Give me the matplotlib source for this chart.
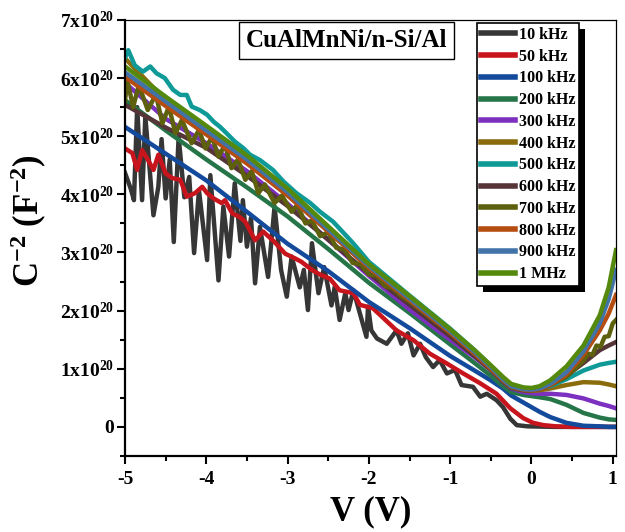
import matplotlib
matplotlib.use('Agg')
import matplotlib.pyplot as plt
from matplotlib.ticker import MultipleLocator, FuncFormatter
from matplotlib.patches import Rectangle

plt.rcParams['font.family'] = ['Liberation Serif', 'DejaVu Serif']
plt.rcParams['font.weight'] = 'bold'
plt.rcParams['axes.labelweight'] = 'bold'
plt.rcParams['mathtext.fontset'] = 'custom'
plt.rcParams['mathtext.rm'] = 'Liberation Serif:bold'
plt.rcParams['mathtext.bf'] = 'Liberation Serif:bold'
plt.rcParams['mathtext.it'] = 'Liberation Serif:italic:bold'

# C^-2 values in units of 1e20 F^-2
V = [-5.0, -4.5, -4.0, -3.5, -3.0, -2.5, -2.0, -1.5, -1.0, -0.7, -0.5,
     -0.35, -0.25, -0.1, 0.0, 0.1, 0.23, 0.43, 0.64, 0.84, 0.95, 1.04]

v10 = [-5.0, -4.93, -4.89, -4.85, -4.79, -4.75, -4.65, -4.59, -4.55, -4.5,
       -4.45, -4.4, -4.34, -4.27, -4.21, -4.15, -4.09, -3.99, -3.95, -3.85,
       -3.79, -3.72, -3.65, -3.58, -3.55, -3.5, -3.45, -3.4, -3.34, -3.24,
       -3.16, -3.08, -3.01, -2.95, -2.85, -2.8, -2.75, -2.7, -2.62, -2.55,
       -2.46, -2.42, -2.36, -2.29, -2.25, -2.19, -2.1, -2.03, -2.01, -1.97,
       -1.9, -1.78, -1.66, -1.6, -1.52, -1.45, -1.37, -1.3, -1.21, -1.13,
       -1.04, -0.94, -0.86, -0.72, -0.63, -0.55, -0.43, -0.35, -0.26, -0.18,
       -0.05, 0.3, 1.04]
c10 = [4.37, 4.1, 3.9, 5.5, 3.9, 5.34, 3.64, 4.13, 4.95, 3.93,
       4.6, 3.18, 4.99, 3.95, 4.3, 2.99, 4.07, 2.87, 4.33, 2.52,
       3.79, 2.93, 4.19, 3.2, 3.9, 3.1, 3.6, 2.47, 3.44, 2.58,
       3.79, 2.7, 2.24, 2.93, 2.4, 2.7, 2.01, 3.16, 2.3, 2.75,
       2.09, 2.41, 1.84, 2.3, 2.01, 2.35, 1.9, 1.55, 2.07, 1.66,
       1.52, 1.43, 1.66, 1.43, 1.61, 1.23, 1.43, 1.2, 1.03, 1.15,
       0.92, 0.98, 0.72, 0.69, 0.52, 0.57, 0.46, 0.34, 0.14, 0.03,
       0.01, 0.0, 0.0]

v50 = [-5.0, -4.91, -4.85, -4.79, -4.72, -4.65, -4.59, -4.5, -4.42, -4.32,
       -4.24, -4.14, -4.05, -3.99, -3.91, -3.81, -3.77, -3.68, -3.6, -3.52,
       -3.4, -3.3, -3.16, -3.03, -2.91, -2.83, -2.7, -2.6, -2.48, -2.36,
       -2.19, -2.11, -1.95, -1.82, -1.66, -1.45, -1.25, -1.04, -0.84, -0.63,
       -0.43, -0.26, -0.1, 0.02, 0.15, 0.3, 0.5, 1.04]
c50 = [4.79, 4.71, 4.42, 4.76, 4.6, 4.42, 4.68, 4.36, 4.28, 4.25,
       3.96, 4.02, 4.13, 4.02, 3.93, 3.85, 3.9, 3.67, 3.62, 3.53,
       3.21, 3.36, 3.18, 2.98, 2.9, 2.84, 2.7, 2.62, 2.55, 2.35,
       2.3, 2.1, 2.04, 1.87, 1.66, 1.49, 1.26, 1.09, 0.92, 0.75,
       0.57, 0.32, 0.15, 0.07, 0.03, 0.01, 0.0, 0.0]

c100 = [5.16, 4.7, 4.24, 3.7, 3.15, 2.68, 2.15, 1.7, 1.22, 0.97, 0.8,
        0.66, 0.54, 0.42, 0.34, 0.26, 0.17, 0.07, 0.02, 0.01, 0.0, 0.0]
c200 = [5.62, 5.1, 4.6, 4.12, 3.62, 3.06, 2.48, 1.96, 1.42, 1.1, 0.88,
        0.7, 0.6, 0.55, 0.53, 0.51, 0.48, 0.38, 0.24, 0.16, 0.13, 0.12]
c300 = [5.92, 5.3, 4.88, 4.4, 3.84, 3.22, 2.6, 2.02, 1.5, 1.2, 0.98,
        0.78, 0.66, 0.6, 0.58, 0.57, 0.57, 0.55, 0.49, 0.4, 0.36, 0.32]
c400 = [6.34, 5.62, 5.1, 4.58, 4.02, 3.38, 2.74, 2.18, 1.62, 1.26, 1.0,
        0.8, 0.68, 0.63, 0.62, 0.63, 0.66, 0.72, 0.77, 0.76, 0.73, 0.70]

v500 = [-5.0, -4.96, -4.88, -4.78, -4.69, -4.61, -4.51, -4.41, -4.32, -4.24,
        -4.18, -4.08, -3.99, -3.91, -3.83, -3.75, -3.65, -3.54, -3.46, -3.34,
        -3.18, -3.05, -2.89, -2.72, -2.6, -2.44, -2.2, -2.0, -1.5, -1.0,
        -0.7, -0.5, -0.35, -0.25, -0.1, 0.0, 0.1, 0.23, 0.43, 0.64,
        0.84, 0.95, 1.04]
c500 = [6.35, 6.48, 6.22, 6.11, 6.2, 6.08, 6.0, 5.8, 5.71, 5.71,
        5.51, 5.45, 5.37, 5.25, 5.16, 5.05, 4.91, 4.79, 4.68, 4.59,
        4.42, 4.22, 4.02, 3.85, 3.7, 3.53, 3.17, 2.84, 2.26, 1.69,
        1.32, 1.05, 0.84, 0.72, 0.66, 0.65, 0.67, 0.7, 0.82, 0.97,
        1.07, 1.1, 1.12]

c600 = [5.54, 5.15, 4.8, 4.32, 3.8, 3.22, 2.64, 2.1, 1.56, 1.22, 0.98,
        0.78, 0.67, 0.63, 0.63, 0.65, 0.72, 0.88, 1.1, 1.32, 1.4, 1.46]

v700 = [-5.0, -4.97, -4.9, -4.83, -4.72, -4.62, -4.54, -4.46, -4.38, -4.30,
        -4.18, -4.09, -4.01, -3.93, -3.85, -3.77, -3.69, -3.61, -3.52, -3.44,
        -3.36, -3.28, -3.16, -3.07, -2.95, -2.88, -2.78, -2.7, -2.6, -2.5,
        -2.4, -2.3, -2.2, -2.1, -2.0, -1.9, -1.8, -1.7, -1.6, -1.5,
        -1.0, -0.7, -0.5, -0.35, -0.25, -0.1, 0.0, 0.1, 0.23, 0.43,
        0.64, 0.7, 0.75, 0.8, 0.85, 0.9, 0.95, 1.0, 1.04]
c700 = [5.62, 5.95, 5.5, 5.88, 5.45, 5.72, 5.22, 5.51, 5.05, 5.28,
        4.88, 5.11, 4.79, 4.99, 4.65, 4.85, 4.45, 4.6, 4.25, 4.4,
        4.02, 4.17, 3.85, 3.98, 3.7, 3.82, 3.5, 3.55, 3.28, 3.35,
        3.08, 3.05, 2.82, 2.8, 2.62, 2.6, 2.42, 2.38, 2.25, 2.16,
        1.62, 1.26, 1.0, 0.8, 0.68, 0.64, 0.63, 0.65, 0.72, 0.86,
        1.14, 1.26, 1.24, 1.4, 1.38, 1.55, 1.56, 1.78, 1.84]

c800 = [6.02, 5.52, 5.03, 4.53, 3.98, 3.36, 2.74, 2.18, 1.62, 1.26, 1.0,
        0.8, 0.69, 0.64, 0.63, 0.65, 0.72, 0.9, 1.24, 1.66, 1.95, 2.27]
c900 = [6.1, 5.6, 5.1, 4.6, 4.04, 3.4, 2.77, 2.21, 1.65, 1.29, 1.03,
        0.82, 0.7, 0.65, 0.64, 0.66, 0.74, 0.94, 1.3, 1.78, 2.2, 2.7]
c1M = [6.2, 5.68, 5.18, 4.67, 4.1, 3.45, 2.8, 2.25, 1.68, 1.32, 1.06,
       0.86, 0.74, 0.68, 0.67, 0.7, 0.8, 1.04, 1.4, 1.92, 2.4, 3.04]

labels = ['10 kHz', '50 kHz', '100 kHz', '200 kHz', '300 kHz', '400 kHz',
          '500 kHz', '600 kHz', '700 kHz', '800 kHz', '900 kHz', '1 MHz']
colors = ['#363636', '#c8141c', '#134a9c', '#267548', '#7c30c0', '#8a6c0c',
          '#0f9a98', '#553537', '#5d600c', '#b54c10', '#4273a8', '#55890e']
xs = [v10, v50, V, V, V, V, v500, V, v700, V, V, V]
ys = [c10, c50, c100, c200, c300, c400, c500, c600, c700, c800, c900, c1M]

fig = plt.figure(figsize=(6.25, 5.32), dpi=100)
ax = fig.add_axes([0.2, 0.1429, 0.7856, 0.8196])

for x, y, col, lab in zip(xs, ys, colors, labels):
    ax.plot(x, y, color=col, lw=3.2, label=lab)

ax.set_xlim(-5, 1.04)
ax.set_ylim(-0.5, 7)
ax.xaxis.set_major_locator(MultipleLocator(1))
ax.xaxis.set_minor_locator(MultipleLocator(0.5))
ax.yaxis.set_major_locator(MultipleLocator(1))
ax.yaxis.set_minor_locator(MultipleLocator(0.5))
ax.yaxis.set_major_formatter(FuncFormatter(
    lambda val, pos: '0' if abs(val) < 1e-9 else '%dx10$^{20}$' % round(val)))
ax.xaxis.set_major_formatter(FuncFormatter(lambda val, pos: '%d' % round(val)))

ax.tick_params(which='major', direction='out', length=6, width=1.5,
               labelsize=14, pad=2, top=False, right=False)
ax.tick_params(which='minor', direction='out', length=3.5, width=1.5,
               top=False, right=False)
ax.tick_params(axis='x', which='major', pad=5)
for s in ['left', 'bottom']:
    ax.spines[s].set_linewidth(1.6)
for s in ['top', 'right']:
    ax.spines[s].set_linewidth(0.9)

ax.set_xlabel('V (V)', fontsize=25, fontweight='bold', labelpad=5)
ax.set_ylabel(r'C$^{-2}$ (F$^{-2}$)', fontsize=25, fontweight='bold')
ax.yaxis.set_label_coords(-0.155, 0.54)

ax.text(0.452, 0.953, 'CuAlMnNi/n-Si/Al', transform=ax.transAxes,
        ha='center', va='center', fontsize=18, fontweight='bold',
        bbox=dict(boxstyle='square,pad=0.27', fc='white', ec='black', lw=1))

leg = ax.legend(loc='upper left', bbox_to_anchor=(0.717, 0.993),
                prop={'size': 11.5, 'weight': 'bold'}, frameon=True,
                framealpha=1, fancybox=False, handlelength=2.1,
                handletextpad=0.25, labelspacing=0.36, borderpad=0.25,
                borderaxespad=0)
leg.get_frame().set_edgecolor('black')
leg.get_frame().set_linewidth(1.2)
for h in leg.get_lines():
    h.set_linewidth(4)

fig.canvas.draw()
bb = leg.get_window_extent().transformed(fig.transFigure.inverted())
dx, dy = 6 / 625, 6 / 532
shadow = Rectangle((bb.x0 + dx, bb.y0 - dy), bb.width, bb.height,
                   transform=fig.transFigure, fc='black', ec='none',
                   zorder=leg.get_zorder() - 0.1, clip_on=False)
ax.add_artist(shadow)

fig.savefig('out.png', dpi=100)
